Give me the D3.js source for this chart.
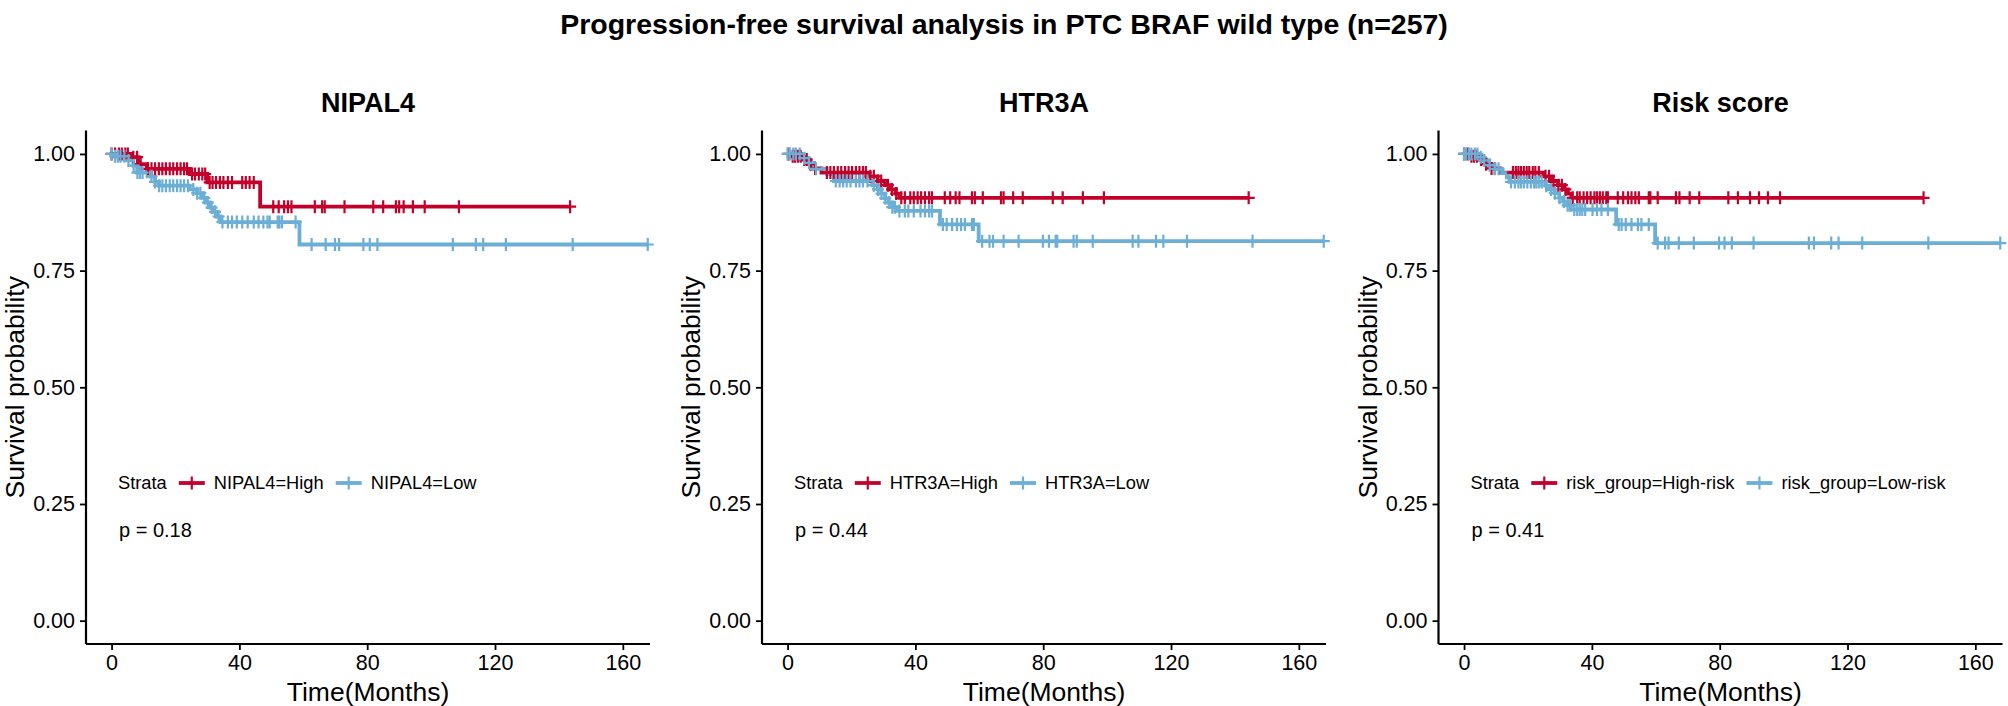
<!DOCTYPE html>
<html><head><meta charset="utf-8">
<script src="https://cdn.jsdelivr.net/npm/d3@7/dist/d3.min.js"></script>
<style>
html,body{margin:0;padding:0;background:#fff;}
svg text{font-family:"Liberation Sans",Arial,Helvetica,sans-serif;}
</style></head>
<body><svg id="chart" width="2008" height="706"></svg>
<script>
// ---------- data ----------
const mainTitle = "Progression-free survival analysis in PTC BRAF wild type (n=257)";
const panelTitles = ["NIPAL4", "HTR3A", "Risk score"];
const highLabels = ["NIPAL4=High", "HTR3A=High", "risk_group=High-risk"];
const lowLabels = ["NIPAL4=Low", "HTR3A=Low", "risk_group=Low-risk"];
const pValues = ["p = 0.18", "p = 0.44", "p = 0.41"];
const xTicks = [0, 40, 80, 120, 160];
const yTicks = [0, 0.25, 0.5, 0.75, 1];
const yTickLabels = ["0.00", "0.25", "0.50", "0.75", "1.00"];
const xTitle = "Time(Months)";
const yTitle = "Survival probability";
const legendTitle = "Strata";

// NIPAL4
const nipal4HighTime = [6.2, 8.5, 11, 24.5, 30, 46.5];
const nipal4HighSurv = [0.993, 0.978, 0.968, 0.957, 0.939, 0.887];
const nipal4HighCensor = [0, 1.1, 2.3, 3.2, 4.3, 5.1, 6.8, 8, 9.1, 11.4, 12.5, 13.6, 14.8, 15.9, 17, 18.2, 19.3, 20.5, 21.6, 22.7, 23.6, 25.2, 26.1, 27.3, 28.4, 29.3, 30.7, 31.6, 32.7, 33.9, 35, 36.4, 37.7, 40.9, 42, 43.2, 44.5, 50.6, 52.3, 54, 55.2, 56.3, 63.6, 65.9, 66.7, 72.9, 81.9, 85, 89, 90, 91.4, 94.3, 98, 108.7, 143.5];
const nipal4LowTime = [0.6, 5.1, 6.8, 8, 11.4, 13.6, 14.8, 24.4, 26.7, 28.4, 29.5, 30.7, 31.8, 33, 34.1, 58.8];
const nipal4LowSurv = [0.995, 0.986, 0.975, 0.960, 0.952, 0.940, 0.932, 0.924, 0.916, 0.906, 0.896, 0.885, 0.876, 0.866, 0.854, 0.806];
const nipal4LowCensor = [0, 1.1, 2, 2.8, 4, 5.3, 6.9, 8.1, 8.9, 9.7, 12.5, 13.6, 14.9, 15.9, 17, 18.2, 19.3, 20.5, 21.6, 22.7, 23.9, 25.6, 26.8, 27.8, 29, 30.1, 31.3, 32.4, 33.5, 34.7, 36.4, 37.7, 39.2, 40.9, 42.6, 44.5, 46, 47.5, 48.8, 49.5, 52, 52.5, 53.3, 57.6, 62.6, 67, 69.9, 71.2, 78.8, 80.8, 83.2, 106.8, 114, 116.3, 123.4, 144.3, 167.8];

// HTR3A
const htr3aHighTime = [1.5, 4.3, 6.6, 7.7, 10.6, 25.3, 28.2, 30.5, 32.2, 33.9, 35];
const htr3aHighSurv = [0.995, 0.988, 0.978, 0.969, 0.960, 0.952, 0.942, 0.933, 0.924, 0.915, 0.906];
const htr3aHighCensor = [0.3, 1.6, 2.3, 3.2, 4.1, 5.2, 6, 7.2, 8.6, 12.3, 13.4, 14.5, 15.7, 16.8, 18, 19.1, 20.2, 21.4, 22.5, 23.6, 24.5, 25.9, 27, 28.3, 29.3, 31.4, 32.7, 34, 35.6, 36.7, 38.4, 39.5, 40.7, 41.8, 43, 44.3, 45.2, 49.2, 50.9, 52.6, 53.8, 57.7, 58.6, 61.1, 66.8, 67.6, 70.6, 73.6, 83, 86.1, 92.4, 99, 144.3];
const htr3aLowTime = [4.9, 6.6, 8.3, 12.3, 14.5, 26.5, 28.2, 29.3, 30.5, 31.6, 32.7, 34.4, 47.7, 59.8];
const htr3aLowSurv = [0.991, 0.981, 0.968, 0.957, 0.942, 0.933, 0.924, 0.915, 0.905, 0.896, 0.886, 0.878, 0.849, 0.813];
const htr3aLowCensor = [0, 0.7, 1.8, 2.6, 3.8, 5.2, 6.7, 8.9, 15.1, 16.3, 17.4, 18.5, 19.7, 21.4, 22.5, 23.6, 25, 27, 28.3, 29.4, 30.6, 31.7, 32.8, 33.6, 35, 36.7, 37.8, 39.5, 41.6, 43, 44.3, 45.2, 48.6, 49.8, 51.5, 53, 54.3, 55.5, 57.7, 58.3, 60.9, 63.2, 64.3, 67.6, 72.3, 79.9, 81.8, 83.9, 84.4, 89.5, 90.5, 95.5, 108, 109.8, 115.3, 117.6, 125, 145.5, 167.8];

// Risk score
const riskHighTime = [1.7, 4.5, 6.8, 8.5, 11.3, 24.9, 27.2, 29.4, 31.1, 32.5, 33.6];
const riskHighSurv = [0.995, 0.988, 0.978, 0.969, 0.960, 0.952, 0.942, 0.933, 0.924, 0.915, 0.906];
const riskHighCensor = [0, 1.1, 2.3, 3.1, 4, 5.3, 6.9, 8.6, 9.6, 15.3, 16.2, 17, 17.8, 18.7, 19.6, 20.4, 21.5, 22.3, 23.4, 25.5, 26.6, 28, 29.5, 30.6, 31.7, 34, 35.4, 36.2, 37.4, 38.5, 39.6, 40.8, 41.6, 42.5, 43.4, 44.5, 45, 48.1, 49.8, 51.3, 52.4, 53.6, 54.7, 57.8, 58.3, 60.6, 66.3, 67.4, 70.6, 73.6, 82.7, 85.7, 89.5, 92.3, 95.1, 98.9, 143.8];
const riskLowTime = [4.5, 6.2, 7.9, 9.6, 11.9, 13.4, 14.2, 25.5, 26.6, 28.3, 29.8, 31.1, 32.3, 33.4, 47.6, 59.8];
const riskLowSurv = [0.993, 0.986, 0.976, 0.968, 0.959, 0.950, 0.940, 0.932, 0.924, 0.916, 0.906, 0.898, 0.890, 0.881, 0.849, 0.809];
const riskLowCensor = [0, 0.6, 1.5, 2.3, 3.4, 4.2, 5.2, 6.3, 8, 9.7, 10.8, 14.7, 15.9, 17, 17.8, 18.7, 19.8, 20.9, 21.9, 22.6, 23.4, 24.3, 25.7, 27.2, 28.4, 29.9, 31.2, 32.4, 33.2, 34.5, 35.4, 36.2, 37, 37.9, 40.2, 41.6, 43, 45, 48.4, 49.3, 50.6, 52.4, 54.4, 55.5, 57.8, 60.6, 62.9, 64, 67.2, 71.9, 79.8, 81.5, 83.8, 90.6, 107.9, 109.5, 114.9, 117.2, 124.6, 145.3, 167.8];

const colors = ["#C3002B", "#6BAED6"];

const panels = [
  {high: [nipal4HighTime, nipal4HighSurv, nipal4HighCensor], low: [nipal4LowTime, nipal4LowSurv, nipal4LowCensor]},
  {high: [htr3aHighTime, htr3aHighSurv, htr3aHighCensor], low: [htr3aLowTime, htr3aLowSurv, htr3aLowCensor]},
  {high: [riskHighTime, riskHighSurv, riskHighCensor], low: [riskLowTime, riskLowSurv, riskLowCensor]}
];

// ---------- layout ----------
const svg = d3.select("#chart");
const FONT = '"Liberation Sans",Arial,Helvetica,sans-serif';
const panelLeft = [86, 762, 1438.5];
const plotTop = 130.6, plotBottom = 644, plotW = 564;

svg.append("text").attr("x", 1004).attr("y", 33.5).attr("text-anchor", "middle")
  .style("font-size", "28.5px").style("font-weight", "bold").text(mainTitle);

const x = d3.scaleLinear().domain([-8, 168.5]).range([0, plotW]);
const y = d3.scaleLinear().domain([-0.05, 1.05]).range([plotBottom - plotTop, 0]);

function survAt(times, survs, t) {
  let s = 1;
  for (let i = 0; i < times.length; i++) if (times[i] <= t) s = survs[i];
  return s;
}
const plusPath = "M-6,0H6M0,-6.5V6.5";

panels.forEach((p, i) => {
  const g = svg.append("g").attr("transform", `translate(${panelLeft[i]},${plotTop})`);
  const h = plotBottom - plotTop;

  // panel title
  svg.append("text").attr("x", panelLeft[i] + plotW / 2).attr("y", 112)
    .attr("text-anchor", "middle").style("font-size", "27px").style("font-weight", "bold")
    .text(panelTitles[i]);

  // axes
  const xAxis = d3.axisBottom(x).tickValues(xTicks).tickSize(6).tickPadding(5);
  const yAxis = d3.axisLeft(y).tickValues(yTicks).tickFormat((d, k) => yTickLabels[k]).tickSize(6).tickPadding(5);
  const gx = g.append("g").attr("transform", `translate(0,${h})`).call(xAxis);
  const gy = g.append("g").call(yAxis);
  [gx, gy].forEach(ax => {
    ax.select(".domain").attr("stroke", "#000").attr("stroke-width", 2.2);
    ax.selectAll(".tick line").attr("stroke", "#000").attr("stroke-width", 1.8);
    ax.selectAll(".tick text").attr("fill", "#000").style("font-size", "21.5px").style("font-family", FONT);
  });
  gx.select(".domain").attr("d", `M0,0H${plotW}`);
  gy.select(".domain").attr("d", `M0,0V${h}`);

  // axis titles
  svg.append("text").attr("x", panelLeft[i] + plotW / 2).attr("y", 701)
    .attr("text-anchor", "middle").style("font-size", "26.5px").text(xTitle);
  svg.append("text").attr("transform", `translate(${panelLeft[i] - 62},${plotTop + h / 2}) rotate(-90)`)
    .attr("text-anchor", "middle").style("font-size", "26.5px").text(yTitle);

  const groups = [p.high, p.low];
  // curves
  groups.forEach((grp, k) => {
    const [times, survs, cens] = grp;
    const end = d3.max(cens);
    const pts = [[0, 1]].concat(times.map((t, j) => [t, survs[j]])).concat([[end, survs[survs.length - 1]]]);
    const line = d3.line().x(d => x(d[0])).y(d => y(d[1])).curve(d3.curveStepAfter);
    g.append("path").datum(pts).attr("d", line).attr("fill", "none")
      .attr("stroke", colors[k]).attr("stroke-width", 3.8);
  });
  // censor marks
  groups.forEach((grp, k) => {
    const [times, survs, cens] = grp;
    g.append("g").selectAll("path").data(cens).join("path")
      .attr("transform", d => `translate(${x(d)},${y(survAt(times, survs, d))})`)
      .attr("d", plusPath).attr("stroke", colors[k]).attr("stroke-width", 2.2).attr("fill", "none");
  });

  // legend
  const ly = 483;
  let lx = panelLeft[i] + 32;
  const lg = svg.append("g");
  const t0 = lg.append("text").attr("x", lx).attr("y", ly + 6.4).style("font-size", "18.3px").text(legendTitle);
  lx += t0.node().getComputedTextLength() + 12;
  [highLabels[i], lowLabels[i]].forEach((lab, k) => {
    lg.append("line").attr("x1", lx).attr("x2", lx + 26).attr("y1", ly).attr("y2", ly)
      .attr("stroke", colors[k]).attr("stroke-width", 3.8);
    lg.append("path").attr("transform", `translate(${lx + 13},${ly})`).attr("d", plusPath)
      .attr("stroke", colors[k]).attr("stroke-width", 2.2).attr("fill", "none");
    lx += 26 + 9;
    const tt = lg.append("text").attr("x", lx).attr("y", ly + 6.4).style("font-size", "18.3px").text(lab);
    lx += tt.node().getComputedTextLength() + 12;
  });

  // p-value
  svg.append("text").attr("x", panelLeft[i] + 33).attr("y", 536.5).style("font-size", "20px").text(pValues[i]);
});
</script></body></html>
